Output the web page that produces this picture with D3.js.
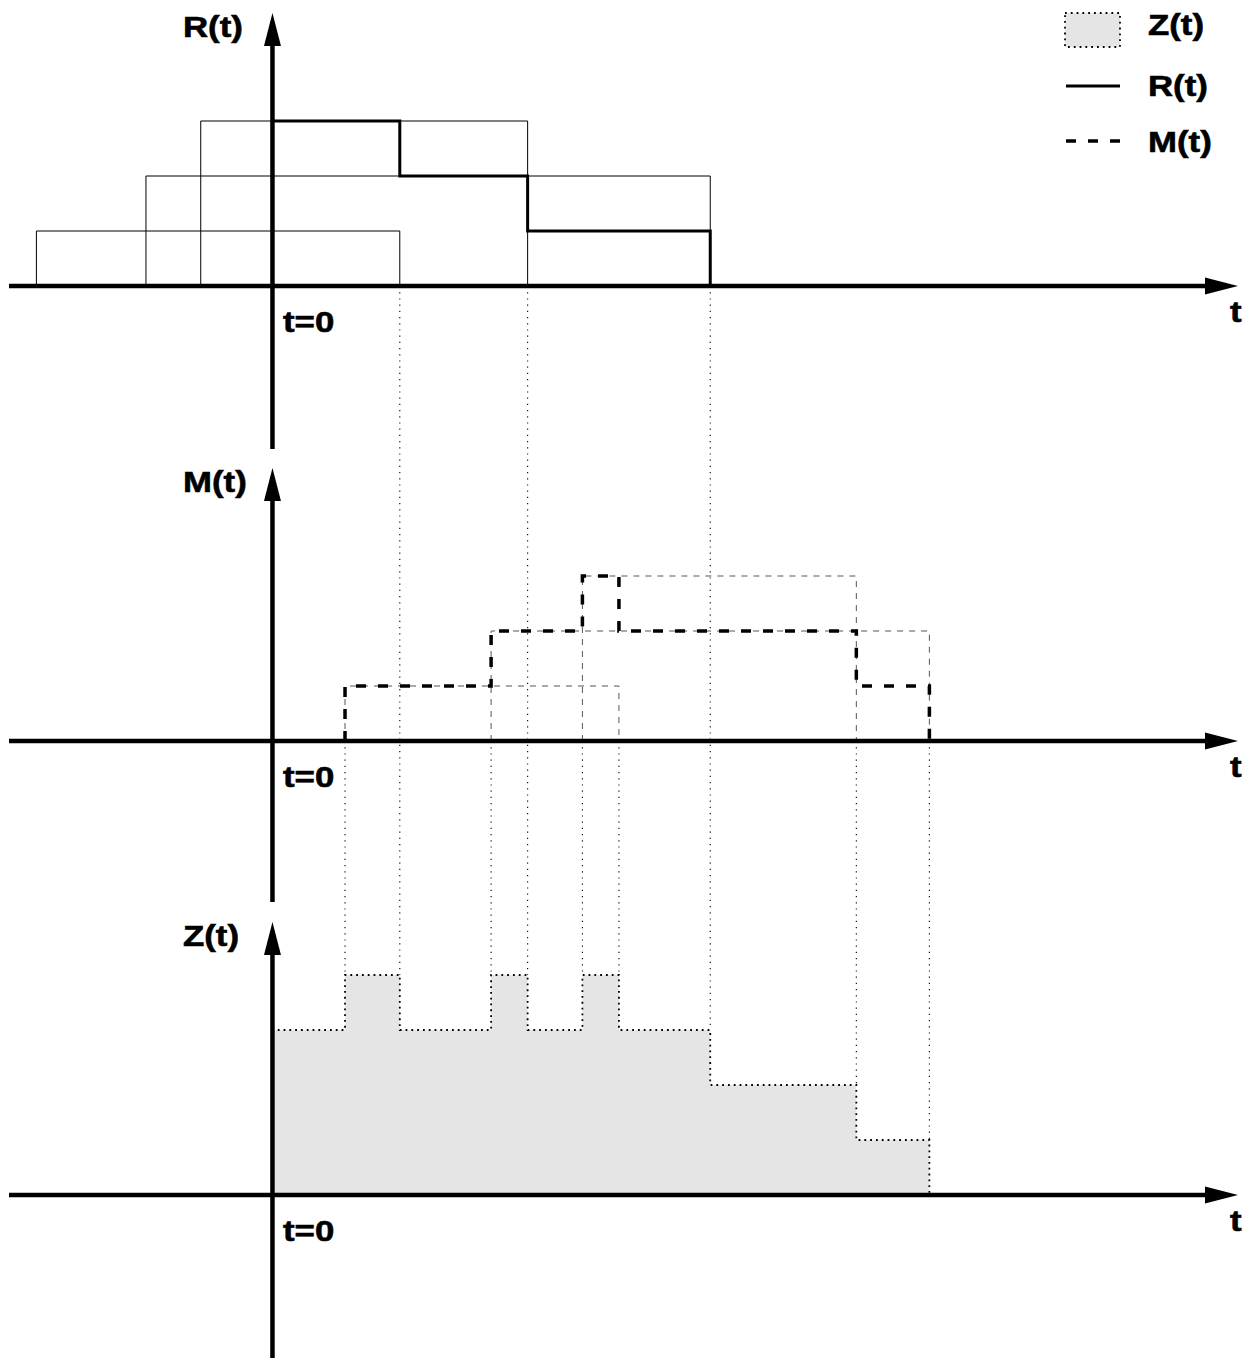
<!DOCTYPE html>
<html>
<head>
<meta charset="utf-8">
<script src="https://cdn.jsdelivr.net/npm/d3@7"></script>
<style>
  html, body { margin: 0; padding: 0; background: #fff; }
  svg { display: block; }
  text { font-family: "Liberation Sans", Arial, Helvetica, sans-serif; font-weight: bold; fill: #000; stroke: #000; stroke-width: 0.6; }
</style>
</head>
<body>
<svg id="chart" width="1255" height="1358"></svg>
<script>
// Intervals that make up R(t) (before and after t=0), stacked at levels 1..3
const rIntervals = [[-6.45, 3.5], [-3.45, 12], [-1.95, 7]];
// Intervals that make up M(t), stacked at levels 1..3
const mIntervals = [[2, 9.5], [6, 18], [8.5, 16]];

// Step functions: value holds from each time until the next one
const rTimes  = [0, 3.5, 7, 12];
const rValues = [3, 2, 1, 0];
const mTimes  = [2, 6, 8.5, 9.5, 16, 18];
const mValues = [1, 2, 3, 2, 1, 0];
const zTimes  = [0, 2, 3.5, 6, 7, 8.5, 9.5, 12, 16, 18];
const zValues = [3, 4, 3, 4, 3, 4, 3, 2, 1, 0];

// Event times projected down to Z(t)
const rEvents = [3.5, 7, 12];
const mEvents = [2, 6, 8.5, 9.5, 16, 18];

const panelLabels = ["R(t)", "M(t)", "Z(t)"];
const legendLabels = ["Z(t)", "R(t)", "M(t)"];

const svg = d3.select("#chart");
const x = d3.scaleLinear().domain([-7.2, 26.45]).range([9, 1238]);

const panels = [
  { base: 286, top: 13, bottom: 449 },
  { base: 741, top: 468, bottom: 902 },
  { base: 1195, top: 922, bottom: 1358 }
];
const yScales = panels.map(p => d3.scaleLinear().domain([0, 4]).range([p.base, p.base - 220]));
const [yR, yM, yZ] = yScales;

const TXS = 1.16; // horizontal stretch of all lettering
function label(g, str, px, py, size) {
  g.append("text")
    .attr("transform", `translate(${px},${py}) scale(${TXS},1)`)
    .attr("font-size", size)
    .text(str);
}

const pts = (ts, vs) => ts.map((t, i) => [t, vs[i]]);
const zPts = pts(zTimes, zValues);
const zAt = t => {
  let v = 0;
  zPts.forEach(([tt, vv]) => { if (tt <= t) v = vv; });
  return v;
};
const zPrev = t => {
  let v = 0;
  zPts.forEach(([tt, vv]) => { if (tt < t) v = vv; });
  return v;
};

// ---- Z(t) filled area ----
svg.append("path")
  .datum(zPts)
  .attr("fill", "#e5e5e5")
  .attr("d", d3.area().curve(d3.curveStepAfter)
    .x(d => x(d[0])).y0(yZ(0)).y1(d => yZ(d[1])));

// ---- R(t) interval rectangles ----
svg.append("g").selectAll("path")
  .data(rIntervals)
  .join("path")
  .attr("fill", "none")
  .attr("stroke", "#000")
  .attr("stroke-width", 1)
  .attr("d", (d, i) => {
    const l = i + 1;
    return `M${x(d[0])},${yR(0)}V${yR(l)}H${x(d[1])}V${yR(0)}`;
  });

// ---- dotted projections to Z(t) ----
const conn = svg.append("g")
  .attr("stroke", "#000")
  .attr("stroke-width", 1.1)
  .attr("stroke-dasharray", "1.2,5");
rEvents.forEach(t => {
  const lvl = Math.max(zAt(t), zPrev(t));
  conn.append("line").attr("x1", x(t)).attr("x2", x(t))
    .attr("y1", yR(0)).attr("y2", yZ(lvl));
});
mEvents.forEach(t => {
  const lvl = Math.max(zAt(t), zPrev(t));
  conn.append("line").attr("x1", x(t)).attr("x2", x(t))
    .attr("y1", yM(0)).attr("y2", yZ(lvl));
});

// ---- M(t) interval rectangles (thin dashed) ----
svg.append("g").selectAll("path")
  .data(mIntervals)
  .join("path")
  .attr("fill", "none")
  .attr("stroke", "#555")
  .attr("stroke-width", 1)
  .attr("stroke-dasharray", "6,6")
  .attr("d", (d, i) => {
    const l = i + 1;
    return `M${x(d[0])},${yM(0)}V${yM(l)}H${x(d[1])}V${yM(0)}`;
  });

// ---- Z(t) dotted outline ----
svg.append("path")
  .datum(zPts)
  .attr("fill", "none")
  .attr("stroke", "#000")
  .attr("stroke-width", 1.8)
  .attr("stroke-dasharray", "1.8,4")
  .attr("d", d3.line().curve(d3.curveStepAfter).x(d => x(d[0])).y(d => yZ(d[1])));

// ---- axes ----
const axes = svg.append("g");
panels.forEach((p, i) => {
  const x0 = x(0) + 0.5;
  axes.append("line").attr("x1", 9).attr("x2", 1206)
    .attr("y1", p.base).attr("y2", p.base)
    .attr("stroke", "#000").attr("stroke-width", 4.5);
  axes.append("path").attr("fill", "#000")
    .attr("d", `M1238,${p.base}L1205,${p.base - 8.5}L1205,${p.base + 8.5}Z`);
  axes.append("line").attr("x1", x0).attr("x2", x0)
    .attr("y1", p.bottom).attr("y2", p.top + 30)
    .attr("stroke", "#000").attr("stroke-width", 4.5);
  axes.append("path").attr("fill", "#000")
    .attr("d", `M${x0},${p.top}L${x0 - 8.5},${p.top + 33}L${x0 + 8.5},${p.top + 33}Z`);

  label(axes, panelLabels[i], 183, p.base - 249, 30);
  label(axes, "t=0", 283, p.base + 46, 30);
  label(axes, "t", 1230, p.base + 36, 30);
});

// ---- R(t) thick step line ----
svg.append("path")
  .datum(pts(rTimes, rValues))
  .attr("fill", "none")
  .attr("stroke", "#000")
  .attr("stroke-width", 3)
  .attr("d", d3.line().curve(d3.curveStepAfter).x(d => x(d[0])).y(d => yR(d[1])));

// ---- M(t) thick dashed step line ----
svg.append("path")
  .datum([[mTimes[0], 0]].concat(pts(mTimes, mValues)))
  .attr("fill", "none")
  .attr("stroke", "#000")
  .attr("stroke-width", 3.5)
  .attr("stroke-dasharray", "10,12")
  .attr("d", d3.line().curve(d3.curveStepAfter).x(d => x(d[0])).y(d => yM(d[1])));

// ---- legend ----
const lg = svg.append("g");
lg.append("rect").attr("x", 1065).attr("y", 13).attr("width", 55).attr("height", 34)
  .attr("fill", "#e5e5e5").attr("stroke", "#000").attr("stroke-width", 1.8)
  .attr("stroke-dasharray", "1.8,4");
lg.append("line").attr("x1", 1066).attr("x2", 1120).attr("y1", 86).attr("y2", 86)
  .attr("stroke", "#000").attr("stroke-width", 3);
lg.append("line").attr("x1", 1066).attr("x2", 1120).attr("y1", 141).attr("y2", 141)
  .attr("stroke", "#000").attr("stroke-width", 3.5).attr("stroke-dasharray", "10,12");
[35, 96, 152].forEach((by, i) => label(lg, legendLabels[i], 1148, by, 30));
</script>
</body>
</html>
